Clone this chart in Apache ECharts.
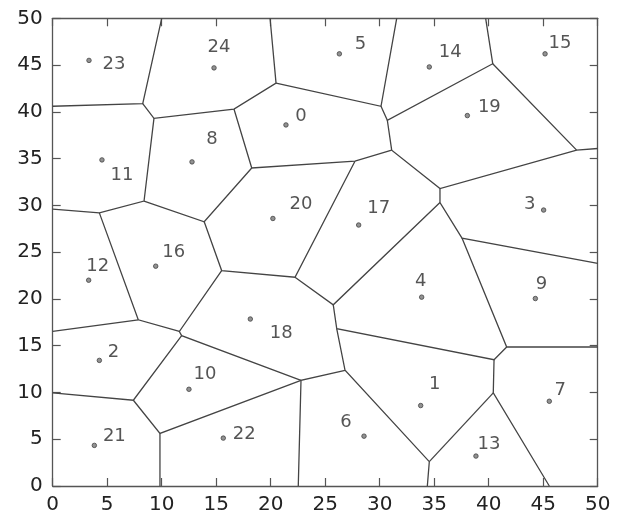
<!DOCTYPE html>
<html>
<head>
<meta charset="utf-8">
<script src="https://cdn.jsdelivr.net/npm/echarts@6/dist/echarts.min.js"></script>
<style>html,body{margin:0;padding:0;background:#fff;}#c{width:618px;height:515px;}</style>
</head>
<body>
<div id="c"></div>
<script>
// Seed points (index = label)
var seedX = [21.4, 33.76, 4.28, 45.04, 33.85, 26.3, 28.56, 45.56, 12.78, 44.28,
             12.5, 4.52, 3.3, 38.83, 34.55, 45.17, 9.45, 28.07, 18.13, 38.04,
             20.2, 3.82, 15.65, 3.33, 14.8];
var seedY = [38.6, 8.6, 13.43, 29.5, 20.19, 46.2, 5.33, 9.06, 34.65, 20.04,
             10.34, 34.86, 22.0, 3.2, 44.8, 46.2, 23.5, 27.9, 17.85, 39.6,
             28.6, 4.34, 5.12, 45.5, 44.7];
var seedNames = ['0','1','2','3','4','5','6','7','8','9','10','11','12','13','14',
                 '15','16','17','18','19','20','21','22','23','24'];

// Voronoi vertices
var V = {
  A:[8.26,40.87], B:[9.29,39.3], C:[16.63,40.3], D:[20.49,43.07], E:[30.12,40.59],
  F:[30.7,39.1], G:[40.37,45.14], H:[48.07,35.9], I:[31.1,35.9], J:[35.53,31.8],
  K:[35.53,30.3], L:[27.73,34.72], M:[18.26,34.0], N:[8.38,30.46], O:[4.28,29.2],
  P:[13.9,28.25], Q:[15.5,23.03], R:[22.23,22.32], S:[25.74,19.37], Vv:[37.55,26.5],
  U:[41.65,14.86], W:[40.49,13.5], X:[26.06,16.81], Y:[26.82,12.37], Z:[40.42,9.96],
  AA:[34.55,2.6], BB:[22.78,11.3], C1:[11.62,16.52], C2:[11.83,16.07], DD:[7.85,17.77],
  EE:[7.4,9.17], FF:[9.84,5.62],
  T1:[10,50], T2:[19.94,50], T3:[31.56,50], T4:[39.72,50],
  L1:[0,40.6], L2:[0,29.6], L3:[0,16.52], L4:[0,9.96],
  R1:[50,36.08], R2:[50,23.8], R3:[50,14.86],
  B1:[9.84,0], B2:[22.53,0], B3:[34.37,0], B4:[45.56,0]
};
// Edge polylines (by vertex name)
var edgePaths = [
  ['T1','A','L1'],
  ['A','B','C','D','T2'],
  ['D','E','T3'],
  ['E','F','G','T4'],
  ['G','H','R1'],
  ['F','I','J','H'],
  ['J','K','Vv','R2'],
  ['I','L','M','C'],
  ['B','N','O','L2'],
  ['N','P','M'],
  ['P','Q','R','L'],
  ['R','S','K'],
  ['Vv','U','R3'],
  ['U','W','X','S'],
  ['X','Y','AA','B3'],
  ['W','Z','B4'],
  ['AA','Z'],
  ['Y','BB','B2'],
  ['BB','C2','C1','Q'],
  ['C1','DD','O'],
  ['DD','L3'],
  ['C2','EE','L4'],
  ['EE','FF','BB'],
  ['FF','B1']
];
var ticks = [0,5,10,15,20,25,30,35,40,45,50];

// label offsets (px) relative to each seed dot
var labelOffsets = [[15,-9],[14,-21],[14,-8],[-14,-6],[-1,-16],[21,-10],[-18,-14],[11,-11],
  [20,-23],[6,-14],[16,-15],[20,15],[9,-14],[13,-12],[21,-15],[15,-11],[18,-14],[20,-17],
  [31,14],[22,-8],[28,-14],[20,-9],[21,-4],[25,4],[5,-21]];

var chart = echarts.init(document.getElementById('c'), null, {renderer:'canvas'});
var lineData = edgePaths.map(function(p){ return {coords: p.map(function(k){return V[k];})}; });
var pts = seedX.map(function(x,i){
  return {value:[x, seedY[i]], name: seedNames[i],
    label:{offset: labelOffsets[i]}};
});
var axisCommon = {
  type:'value', min:0, max:50, interval:5,
  splitLine:{show:false},
  axisLine:{show:true, onZero:false, lineStyle:{color:'#555', width:1.3}},
  axisTick:{show:true, inside:true, length:8, lineStyle:{color:'#555', width:1.2}}
};
var labelStyle = {color:'#222', fontSize:20, fontFamily:'DejaVu Sans'};
chart.setOption({
  animation:false,
  grid:{left:52.7, right:20.3, top:18.3, bottom:28.3, containLabel:false},
  xAxis:[
    Object.assign({}, axisCommon, {position:'bottom', axisLabel:Object.assign({margin:9}, labelStyle)}),
    Object.assign({}, axisCommon, {position:'top', axisLabel:{show:false}})
  ],
  yAxis:[
    Object.assign({}, axisCommon, {position:'left', axisLabel:Object.assign({margin:10}, labelStyle)}),
    Object.assign({}, axisCommon, {position:'right', axisLabel:{show:false}})
  ],
  series:[
    {type:'lines', coordinateSystem:'cartesian2d', polyline:true, silent:true,
     lineStyle:{color:'#444', width:1.3, opacity:1}, data:lineData, z:2},
    {type:'scatter', symbol:'circle', symbolSize:4.5, z:3,
     itemStyle:{color:'#777', borderColor:'#444', borderWidth:1},
     label:{show:true, position:'inside', formatter:function(p){return p.name;},
       color:'#2a2a2a', fontSize:18, fontFamily:'DejaVu Sans'},
     data:pts}
  ]
});
</script>
</body>
</html>
